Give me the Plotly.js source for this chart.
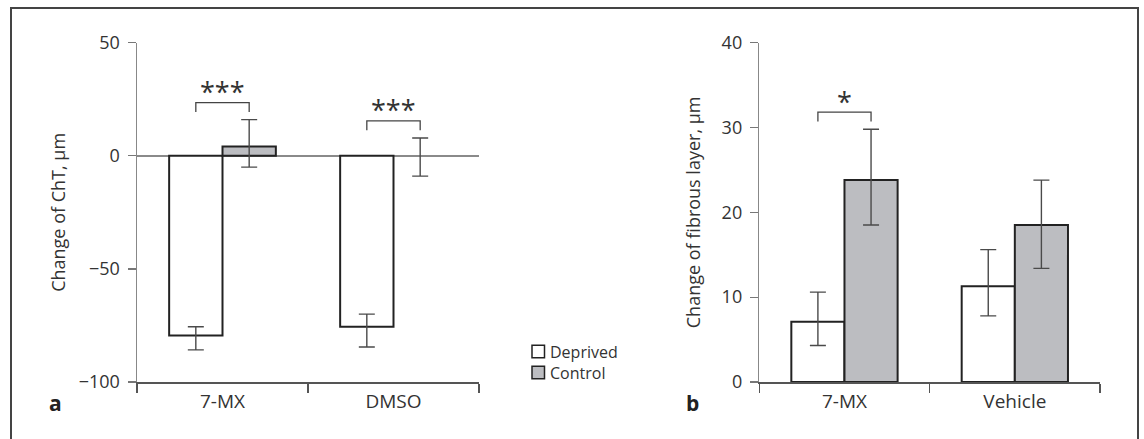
<!DOCTYPE html>
<html>
<head>
<meta charset="utf-8">
<script src="https://cdn.plot.ly/plotly-3.0.1.min.js"></script>
<style>html,body{margin:0;padding:0;background:#fff;}#chart{width:1144px;height:439px;}</style>
</head>
<body>
<div id="chart"></div>
<script>
// ---- data ----
const groupsA = ['7-MX', 'DMSO'];
const deprivedA = [-79.4, -75.6];
const deprivedAplus = [3.8, 5.6];
const deprivedAminus = [6.4, 8.9];
const controlA = [4.1, 0];
const controlAplus = [11.9, 7.9];
const controlAminus = [9.1, 9.0];
const sigA = ['***', '***'];

const groupsB = ['7-MX', 'Vehicle'];
const deprivedB = [7.1, 11.3];
const deprivedBplus = [3.5, 4.3];
const deprivedBminus = [2.8, 3.5];
const controlB = [23.8, 18.5];
const controlBplus = [6.0, 5.3];
const controlBminus = [5.3, 5.1];
const sigB = ['*', ''];

const seriesNames = ['Deprived', 'Control'];
const panelLabels = ['a', 'b'];
const titleA = 'Change of ChT, μm';
const titleB = 'Change of fibrous layer, μm';

// ---- styling ----
const W = 1144, H = 439;
const FONT = 'Open Sans, Noto Sans, sans-serif';
const TXT = '#333';
const fillDep = '#ffffff', fillCtl = '#bcbdc1';
const fills = [fillDep, fillCtl];
const errStyle = {color: '#4a4a4a', thickness: 1.4, width: 8};
const bargap = 0.376;
const yDom = [(H - 382) / H, (H - 42.7) / H];
const rangeA = [-100, 50], rangeB = [0, 40];

function bar(x, y, plus, minus, name, fill, xa, ya) {
  // bars of zero height get no outline (the reference shows none)
  const lw = y.map(function (v) { return v === 0 ? 0 : 2; });
  return {
    type: 'bar', x: x, y: y, name: name, xaxis: xa, yaxis: ya, showlegend: false,
    marker: {color: fill, line: {color: '#222', width: lw}},
    error_y: Object.assign({type: 'data', symmetric: false, array: plus, arrayminus: minus, visible: true}, errStyle),
    hoverinfo: 'skip'
  };
}

const data = [
  bar(groupsA, deprivedA, deprivedAplus, deprivedAminus, seriesNames[0], fillDep, 'x', 'y'),
  bar(groupsA, controlA, controlAplus, controlAminus, seriesNames[1], fillCtl, 'x', 'y'),
  bar(groupsB, deprivedB, deprivedBplus, deprivedBminus, seriesNames[0], fillDep, 'x2', 'y2'),
  bar(groupsB, controlB, controlBplus, controlBminus, seriesNames[1], fillCtl, 'x2', 'y2')
];

// significance brackets, placed relative to the highest error bar (pixel offsets converted via axis scale)
const shapes = [];
const annotations = [];
const half = (1 - bargap) / 4;
const plotHpx = (yDom[1] - yDom[0]) * H;
function brackets(sig, dep, depP, ctl, ctlP, range, xr, yr) {
  const upp = (range[1] - range[0]) / plotHpx;
  sig.forEach(function (s, i) {
    if (!s) return;
    const top = Math.max(dep[i] + depP[i], ctl[i] + ctlP[i]);
    const legY = top + 7.7 * upp, topY = top + 17 * upp;
    const x0 = i - half, x1 = i + half;
    shapes.push({type: 'path', xref: xr, yref: yr,
      path: 'M' + x0 + ',' + legY + ' L' + x0 + ',' + topY + ' L' + x1 + ',' + topY + ' L' + x1 + ',' + legY,
      line: {color: '#444', width: 1.3}});
    annotations.push({xref: xr, yref: yr, x: i, y: top, yshift: 28, text: s, showarrow: false,
      font: {family: FONT, size: 27, color: TXT}, xanchor: 'center', yanchor: 'middle'});
  });
}
brackets(sigA, deprivedA, deprivedAplus, controlA, controlAplus, rangeA, 'x', 'y');
brackets(sigB, deprivedB, deprivedBplus, controlB, controlBplus, rangeB, 'x2', 'y2');

// outer frame (open at the bottom)
shapes.push({type: 'path', xref: 'paper', yref: 'paper',
  path: 'M' + (11 / W) + ',-0.1 L' + (11 / W) + ',' + ((H - 8) / H) + ' L' + (1138 / W) + ',' + ((H - 8) / H) + ' L' + (1138 / W) + ',-0.1',
  line: {color: '#444', width: 2}});

// legend (drawn manually to get the tight line spacing of the reference)
const legFont = 16;
const legStep = legFont * 1.3;
const legX = 532, legCenter = 362, sq = 12.5;
seriesNames.forEach(function (n, i) {
  const cy = legCenter + (i - (seriesNames.length - 1) / 2) * legStep;
  shapes.push({type: 'rect', xref: 'paper', yref: 'paper',
    x0: legX / W, x1: (legX + sq) / W, y0: (H - cy - sq / 2) / H, y1: (H - cy + sq / 2) / H,
    fillcolor: fills[i], line: {color: '#222', width: 1.5}});
});
annotations.push({xref: 'paper', yref: 'paper', x: (legX + sq + 3) / W, y: (H - legCenter) / H,
  text: seriesNames.join('<br>'), align: 'left',
  showarrow: false, xanchor: 'left', yanchor: 'middle', font: {family: FONT, size: legFont, color: TXT}});

// panel letters
annotations.push({xref: 'paper', yref: 'paper', x: 55 / W, y: (H - 403) / H, text: '<b>' + panelLabels[0] + '</b>',
  showarrow: false, font: {family: FONT, size: 21, color: '#222'}, xanchor: 'center', yanchor: 'middle'});
annotations.push({xref: 'paper', yref: 'paper', x: 692 / W, y: (H - 403) / H, text: '<b>' + panelLabels[1] + '</b>',
  showarrow: false, font: {family: FONT, size: 21, color: '#222'}, xanchor: 'center', yanchor: 'middle'});

const xCommon = {
  type: 'category', range: [-0.5, 1.5], tickson: 'boundaries', ticks: 'outside', ticklen: 9,
  tickcolor: '#555', tickwidth: 1.3, showline: true, linecolor: '#555', linewidth: 1.5,
  showgrid: false, zeroline: false, tickfont: {family: FONT, size: 19, color: TXT}, fixedrange: true,
  ticklabelstandoff: 2
};
const yCommon = {
  ticks: 'outside', ticklen: 8, tickcolor: '#777', tickwidth: 1.3, showline: true, linecolor: '#888',
  linewidth: 1.5, showgrid: false, tickfont: {family: FONT, size: 18, color: TXT}, fixedrange: true,
  ticklabelstandoff: 4
};

const layout = {
  width: W, height: H,
  margin: {l: 0, r: 0, t: 0, b: 0},
  paper_bgcolor: '#fff', plot_bgcolor: 'rgba(0,0,0,0)',
  font: {family: FONT, color: TXT},
  barmode: 'group', bargap: bargap, bargroupgap: 0,
  xaxis: Object.assign({}, xCommon, {domain: [137 / W, 479 / W], anchor: 'y'}),
  yaxis: Object.assign({}, yCommon, {domain: yDom, range: rangeA, dtick: 50, anchor: 'x',
    zeroline: true, zerolinecolor: '#8a8a8a', zerolinewidth: 1.5,
    title: {text: titleA, font: {family: FONT, size: 18, color: TXT}, standoff: 8}}),
  xaxis2: Object.assign({}, xCommon, {domain: [759.3 / W, 1100 / W], anchor: 'y2'}),
  yaxis2: Object.assign({}, yCommon, {domain: yDom, range: rangeB, dtick: 10, anchor: 'x2', zeroline: false,
    title: {text: titleB, font: {family: FONT, size: 18, color: TXT}, standoff: 16}}),
  shapes: shapes,
  annotations: annotations,
  showlegend: false
};

Plotly.newPlot('chart', data, layout, {staticPlot: true, displayModeBar: false});
</script>
</body>
</html>
